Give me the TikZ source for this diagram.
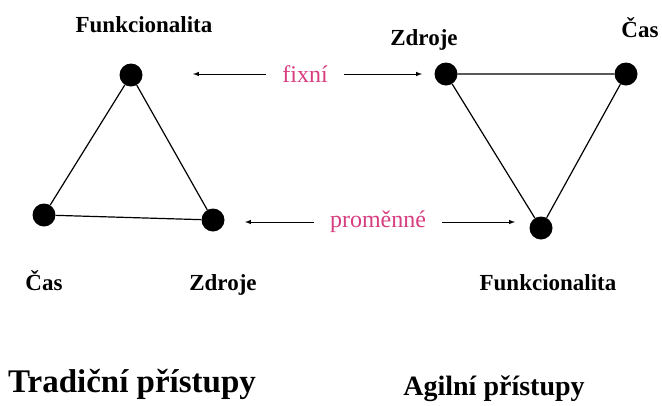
\documentclass[tikz,border=0pt]{standalone}
\usepackage{fontspec}
\setmainfont{Liberation Serif}
\usetikzlibrary{arrows}
\definecolor{pinkish}{RGB}{214,62,128}
\tikzset{
  vertex/.style={circle,fill=black,inner sep=0pt,minimum size=23pt},
  lbl/.style={font=\fontsize{23}{23}\selectfont\bfseries,anchor=base,inner sep=0pt},
  ttl/.style={font=\fontsize{#1}{#1}\selectfont\bfseries,anchor=base,inner sep=0pt},
  ttl/.default=33,
  note/.style={font=\fontsize{24}{24}\selectfont,text=pinkish,inner sep=0pt},
  side/.style={line width=1.2pt},
  hint/.style={-latex,line width=1pt}
}

\begin{document}
\begin{tikzpicture}[x=1pt,y=-1pt]
  \useasboundingbox (0,0) rectangle (662,405);
  % traditional triangle: fixed scope, variable time and resources
  \draw
    (131,75) node[vertex](Tf) {}
    (44,215) node[vertex](Tc) {}
    (213,220) node[vertex](Tz) {};
  \draw[side] (Tf) -- (Tc) -- (Tz) -- (Tf);
  \draw
    (144,32) node[lbl] {Funkcionalita}
    (44,290) node[lbl] {Čas}
    (223,290) node[lbl] {Zdroje}
    (132,392) node[ttl] {Tradiční přístupy};

  % agile triangle: fixed time and resources, variable scope
  \draw
    (446,74) node[vertex](Az) {}
    (626,74) node[vertex](Ac) {}
    (541,228) node[vertex](Af) {};
  \draw[side] (Az) -- (Ac) -- (Af) -- (Az);
  \draw
    (424,45) node[lbl] {Zdroje}
    (640,37) node[lbl] {Čas}
    (548,290) node[lbl] {Funkcionalita}
    (494,395) node[ttl=28] {Agilní přístupy};

  % what stays fixed and what may change
  \node[note] (fix) at (305,74) {fixní};
  \node[note] (var) at (378,222) {proměnné};
  \coordinate (fixL) at (193,74);
  \coordinate (fixR) at (422,74);
  \coordinate (varL) at (245,222);
  \coordinate (varR) at (515,222);
  \draw[hint] ([xshift=-16pt]fix.west) -- (fixL);
  \draw[hint] ([xshift=16pt]fix.east) -- (fixR);
  \draw[hint] ([xshift=-16pt]var.west) -- (varL);
  \draw[hint] ([xshift=16pt]var.east) -- (varR);
\end{tikzpicture}
\end{document}
